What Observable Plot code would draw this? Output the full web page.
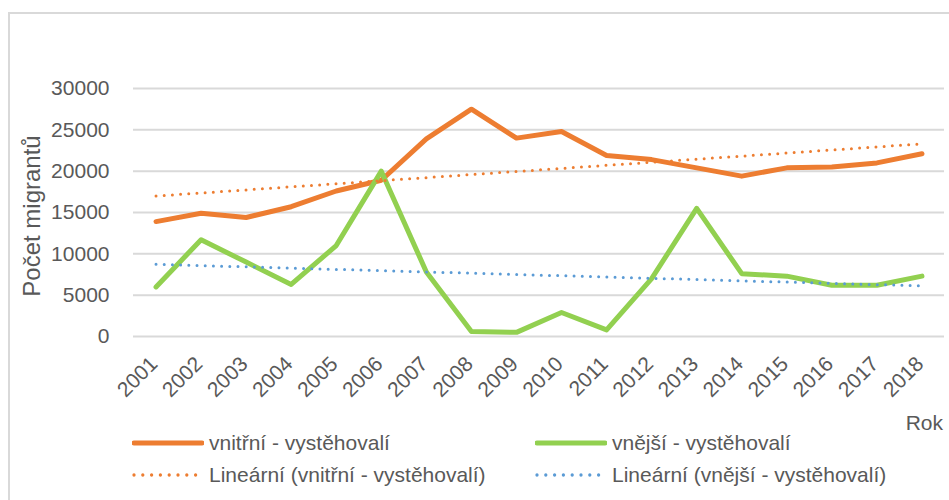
<!DOCTYPE html>
<html>
<head>
<meta charset="utf-8">
<script src="https://cdn.jsdelivr.net/npm/d3@7"></script>
<script src="https://cdn.jsdelivr.net/npm/@observablehq/plot@0.6"></script>
<style>
  html, body { margin: 0; padding: 0; background: #fff; }
  #wrap { position: relative; width: 949px; height: 500px; overflow: hidden; font-family: "Liberation Sans", Arial, sans-serif; color: #595959; }
  #frame { position: absolute; left: 8px; top: 12px; width: 1000px; height: 600px; border-left: 2px solid #d9d9d9; border-top: 2px solid #d9d9d9; }
  #chart { position: absolute; left: 0; top: 0; }
  #ylabel { position: absolute; left: 32px; top: 216px; transform: translate(-50%, -50%) rotate(-90deg); font-size: 24px; white-space: nowrap; }
  #xlabel { position: absolute; right: 6px; top: 411px; font-size: 21px; }
  .leg { position: absolute; font-size: 21px; white-space: nowrap; display: flex; align-items: center; }
  .leg svg { margin-right: 5px; }
</style>
</head>
<body>
<div id="wrap">
  <div id="frame"></div>
  <div id="chart"></div>
  <div id="ylabel"></div>
  <div id="xlabel"></div>
  <div id="legend"></div>
</div>
<script>
const years = [2001,2002,2003,2004,2005,2006,2007,2008,2009,2010,2011,2012,2013,2014,2015,2016,2017,2018];
const vnitrni = [13900,14900,14400,15700,17600,18900,23900,27500,24000,24800,21900,21400,20400,19400,20400,20500,21000,22100];
const vnejsi = [6000,11700,9000,6300,11000,20000,7800,600,500,2900,800,7000,15500,7600,7300,6200,6200,7300];
const yTicks = [0,5000,10000,15000,20000,25000,30000];
const seriesNames = ["vnitřní - vystěhovalí", "vnější - vystěhovalí"];
const trendNames = ["Lineární (vnitřní - vystěhovalí)", "Lineární (vnější - vystěhovalí)"];
const yTitle = "Počet migrantů";
const xTitle = "Rok";

const colOrange = "#ED7D31", colGreen = "#92D050", colBlue = "#5B9BD5";

const dIn = years.map((y, i) => ({year: y, value: vnitrni[i]}));
const dOut = years.map((y, i) => ({year: y, value: vnejsi[i]}));

const plot = Plot.plot({
  width: 949,
  height: 415,
  marginLeft: 133,
  marginRight: 5,
  marginTop: 88,
  marginBottom: 79,
  style: {fontFamily: "'Liberation Sans', Arial, sans-serif", fontSize: "21px", color: "#595959", background: "transparent"},
  x: {type: "linear", domain: [2000.5, 2018.5], axis: null},
  y: {domain: [0, 30000], axis: null},
  marks: [
    Plot.ruleY(yTicks, {stroke: "#d9d9d9", strokeWidth: 2}),
    Plot.axisY(yTicks, {tickSize: 0, tickPadding: 24, tickFormat: d => String(d), fill: "#595959", fontSize: 21, label: null}),
    Plot.axisX(years, {tickSize: 0, tickPadding: 24, dx: -2, tickRotate: -45, tickFormat: d => String(d), fill: "#595959", fontSize: 21, label: null}),
    Plot.line(dIn, {x: "year", y: "value", stroke: colOrange, strokeWidth: 5, strokeLinejoin: "round", strokeLinecap: "round"}),
    Plot.line(dOut, {x: "year", y: "value", stroke: colGreen, strokeWidth: 5, strokeLinejoin: "round", strokeLinecap: "round"}),
    Plot.linearRegressionY(dIn, {x: "year", y: "value", ci: 0, stroke: colOrange, strokeWidth: 3, strokeDasharray: "0,8.2", strokeLinecap: "round"}),
    Plot.linearRegressionY(dOut, {x: "year", y: "value", ci: 0, stroke: colBlue, strokeWidth: 3, strokeDasharray: "0,8.2", strokeLinecap: "round"})
  ]
});
document.getElementById("chart").appendChild(plot);
document.getElementById("ylabel").textContent = yTitle;
document.getElementById("xlabel").textContent = xTitle;

function swatch(color, dotted) {
  const w = 72, h = 10;
  const dash = dotted ? `stroke-dasharray="0,8.8" stroke-width="3.3"` : `stroke-width="5"`;
  return `<svg width="${w}" height="${h}"><line x1="2" y1="5" x2="${w-2}" y2="5" stroke="${color}" ${dash} stroke-linecap="round"/></svg>`;
}
const legendItems = [
  {name: seriesNames[0], color: colOrange, dotted: false, left: 132, top: 443},
  {name: seriesNames[1], color: colGreen, dotted: false, left: 535, top: 443},
  {name: trendNames[0], color: colOrange, dotted: true, left: 132, top: 475},
  {name: trendNames[1], color: colBlue, dotted: true, left: 535, top: 475}
];
const leg = document.getElementById("legend");
for (const it of legendItems) {
  const el = document.createElement("div");
  el.className = "leg";
  el.style.left = it.left + "px";
  el.style.top = (it.top - 13) + "px";
  el.style.height = "26px";
  el.innerHTML = swatch(it.color, it.dotted) + `<span>${it.name}</span>`;
  leg.appendChild(el);
}
</script>
</body>
</html>
